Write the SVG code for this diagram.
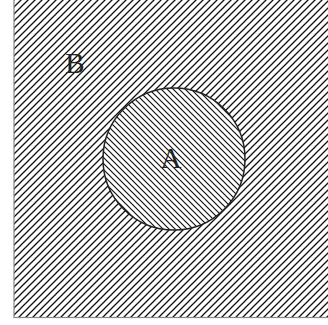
<svg xmlns="http://www.w3.org/2000/svg" width="328" height="325" viewBox="0 0 328 325">
<defs>
<pattern id="hatchB" patternUnits="userSpaceOnUse" width="7" height="7">
<path d="M-1,1 L1,-1 M0,7 L7,0 M6,8 L8,6" stroke="#111" stroke-width="1.3"/>
</pattern>
<pattern id="hatchA" patternUnits="userSpaceOnUse" width="6" height="6">
<path d="M-1,5 L1,7 M0,0 L6,6 M5,-1 L7,1" stroke="#111" stroke-width="1.2"/>
</pattern>
</defs>
<style>
.lbl{font-family:"Liberation Serif",serif;font-size:29px;fill:#222;text-anchor:middle}
</style>
<g id="B">
<rect x="14" y="-2" width="316" height="319.5" fill="url(#hatchB)" stroke="#888" stroke-width="1.2"/>
<text class="lbl" x="75" y="73">B</text>
</g>
<g id="A">
<circle cx="174" cy="159" r="71" fill="#fff"/>
<circle cx="174" cy="159" r="71" fill="url(#hatchA)" stroke="#222" stroke-width="1.5"/>
<text class="lbl" x="171" y="168">A</text>
</g>
<g id="connectors"/>
</svg>
